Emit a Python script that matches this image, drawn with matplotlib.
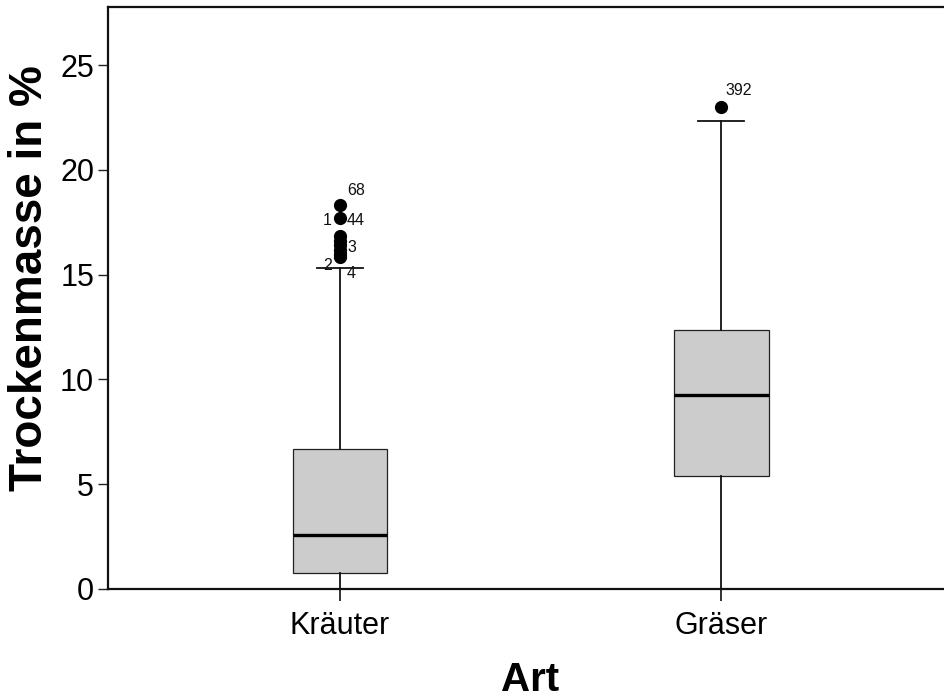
import matplotlib
matplotlib.use("Agg")
import matplotlib.pyplot as plt

# ---- data ----
categories = ["Kräuter", "Gräser"]
q1 = [0.76, 5.39]
median = [2.58, 9.26]
q3 = [6.68, 12.36]
whislo = [0.0, 0.0]
whishi = [15.31, 22.33]
outliers_kraeuter = [18.32, 17.70, 16.85, 16.62, 16.40, 16.18, 15.98, 15.82]
outliers_graeser = [23.00]
# outlier labels: (category index, outlier value, text)
outlier_labels = [
    (0, 18.32, "68"),
    (0, 17.70, "1"),
    (0, 17.70, "44"),
    (0, 16.62, "3"),
    (0, 15.82, "2"),
    (0, 15.82, "4"),
    (1, 23.00, "392"),
]
yticks = [0, 5, 10, 15, 20, 25]
ylabel = "Trockenmasse in %"
xlabel = "Art"

plt.rcParams['font.family'] = ['Liberation Sans', 'DejaVu Sans']

fig = plt.figure(figsize=(9.44, 6.98), dpi=100)
ax = fig.add_axes([108/944, 1-589/698, 1.0 - 108/944 + 0.01, (589-7)/698])

fliers = [outliers_kraeuter, outliers_graeser]
stats = []
for i, c in enumerate(categories):
    stats.append(dict(label=c, q1=q1[i], med=median[i], q3=q3[i],
                      whislo=whislo[i], whishi=whishi[i], fliers=[]))

positions = [1, 2]
ax.bxp(stats, positions=positions, widths=0.249, patch_artist=True,
       showfliers=False,
       boxprops=dict(facecolor="#cccccc", edgecolor="#222222", linewidth=0.9),
       medianprops=dict(color="black", linewidth=2.4, solid_capstyle="butt"),
       whiskerprops=dict(color="#111111", linewidth=1.3),
       capprops=dict(color="#111111", linewidth=1.3),
       capwidths=0.122)

for i, f in enumerate(fliers):
    ax.plot([positions[i]] * len(f), f, 'o', color='black', markersize=9.5,
            markeredgewidth=0, zorder=5)

# label offsets in pixels (dx, dy of baseline relative to dot centre), ha
label_style = {
    "68": (7, 10, "left"),
    "1": (-8, -7, "right"),
    "44": (7, -7, "left"),
    "3": (7, -11, "left"),
    "2": (-8, -13, "right"),
    "4": (7, -21, "left"),
    "392": (4, 12, "left"),
}
for ci, val, txt in outlier_labels:
    dx, dy, ha = label_style[txt]
    ax.annotate(txt, xy=(positions[ci], val), xytext=(dx * 0.72, dy * 0.72),
                textcoords="offset points", ha=ha, va="baseline",
                fontsize=11.5, color="#111111", zorder=3)

ax.set_xlim(0.391, 2.585 + 0.01 * 944 / 381 * 1.0)
ax.set_ylim(0, (589 - 7) / 20.96)
ax.set_yticks(yticks)
ax.set_xticks(positions)
ax.set_xticklabels(categories)
ax.tick_params(axis='y', length=7.5, width=1.0, pad=2.5, labelsize=22,
               color="#222222")
ax.tick_params(axis='x', length=8.5, width=1.3, pad=7, labelsize=22,
               color="#222222")

for s in ["left", "bottom", "top"]:
    ax.spines[s].set_linewidth(1.6)
    ax.spines[s].set_color("#111111")
ax.spines["right"].set_visible(False)

fig.text(30/944, 1 - 278/698, ylabel, rotation=90, fontsize=33,
         fontweight="bold", ha="center", va="center")
fig.text(530/944, 1 - 691/698, xlabel, fontsize=29, fontweight="bold",
         ha="center", va="baseline")

fig.savefig("out.png", dpi=100)
